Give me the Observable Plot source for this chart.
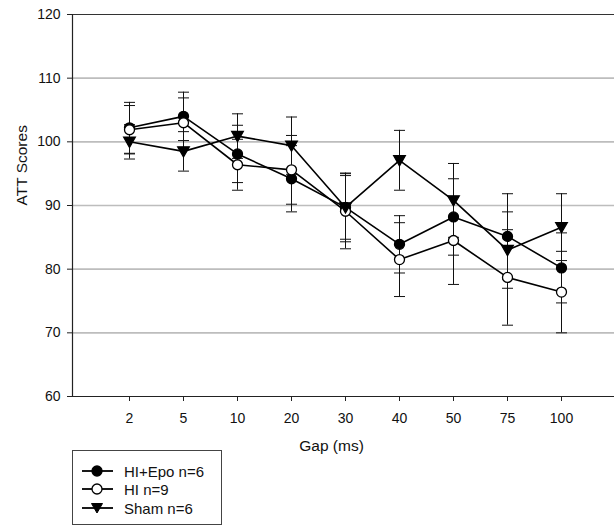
<!DOCTYPE html>
<html>
<head>
<meta charset="utf-8">
<script src="https://cdn.jsdelivr.net/npm/d3@7"></script>
<script src="https://cdn.jsdelivr.net/npm/@observablehq/plot@0.6"></script>
<style>
  html, body { margin: 0; padding: 0; background: #fff; }
  #wrap { position: relative; width: 614px; height: 526px; overflow: hidden; font-family: "Liberation Sans", Arial, sans-serif; }
  #legend { position: absolute; left: 72px; top: 450px; width: 150px; height: 75px; border: 1px solid #444; box-sizing: border-box; background: #fff; }
  .item { position: absolute; left: 0; height: 18px; display: flex; align-items: center; font-size: 15px; color: #111; }
  .item svg { margin-left: 9px; margin-right: 11px; }
</style>
</head>
<body>
<div id="wrap"><div id="chart"></div><div id="legend"></div></div>
<script>
const gaps = ["2", "5", "10", "20", "30", "40", "50", "75", "100"];
const seriesNames = ["HI+Epo n=6", "HI n=9", "Sham n=6"];
const hiEpo    = [102.2, 104.0, 98.1, 94.2, 89.7, 83.9, 88.2, 85.15, 80.2];
const hiEpoErr = [4.0, 3.8, 4.5, 5.2, 5.0, 4.5, 6.0, 6.7, 5.5];
const hi       = [101.9, 103.0, 96.4, 95.6, 89.1, 81.5, 84.5, 78.7, 76.4];
const hiErr    = [3.8, 3.9, 4.0, 5.4, 5.9, 5.8, 6.9, 7.5, 6.4];
const sham     = [100.0, 98.5, 100.9, 99.4, 89.7, 97.1, 90.8, 83.0, 86.6];
const shamErr  = [2.7, 3.1, 3.5, 4.5, 5.4, 4.7, 5.8, 6.0, 5.25];
const yTicks = [60, 70, 80, 90, 100, 110, 120];
const gridTicks = [70, 80, 90, 100, 110];
const xTitle = "Gap (ms)";
const yTitle = "ATT Scores";

const means = [hiEpo, hi, sham];
const errs = [hiEpoErr, hiErr, shamErr];
const data = [];
seriesNames.forEach((s, si) => {
  gaps.forEach((g, i) => {
    data.push({series: s, gap: g, y: means[si][i], lo: means[si][i] - errs[si][i], hi: means[si][i] + errs[si][i]});
  });
});

const triDown = {
  draw(ctx) {
    ctx.moveTo(-5.8, -4.6);
    ctx.lineTo(5.8, -4.6);
    ctx.lineTo(0, 5.6);
    ctx.closePath();
  }
};
const capLine = {
  draw(ctx) {
    ctx.moveTo(-5.5, 0);
    ctx.lineTo(5.5, 0);
  }
};

const symbolOf = {"HI+Epo n=6": "circle", "HI n=9": "circle", "Sham n=6": triDown};
const fillOf = {"HI+Epo n=6": "#000", "HI n=9": "#fff", "Sham n=6": "#000"};

const chart = Plot.plot({
  width: 614,
  height: 526,
  marginLeft: 72,
  marginRight: 0,
  marginTop: 14,
  marginBottom: 130,
  style: {fontFamily: "'Liberation Sans', Arial, sans-serif", fontSize: "14px", color: "#111", background: "#fff"},
  x: {type: "point", domain: gaps, range: [72, 618], padding: 1},
  y: {domain: [60, 120]},
  symbol: {type: "identity"},
  marks: [
    Plot.ruleY(gridTicks, {stroke: "#bdbdbd", strokeWidth: 1.6}),
    Plot.ruleY([120], {stroke: "#333", strokeWidth: 1}),
    Plot.ruleY([60], {stroke: "#222", strokeWidth: 1.2}),
    Plot.frame({anchor: "left", stroke: "#222", strokeWidth: 1.2}),
    Plot.axisY({ticks: yTicks, tickSize: 5, tickPadding: 7, label: null, fontSize: 14, stroke: "#222"}),
    Plot.axisX({tickSize: 5, tickPadding: 12, label: null, fontSize: 14, stroke: "#222"}),
    Plot.text([yTitle], {frameAnchor: "left", dx: -50, rotate: -90, fontSize: 15.5, fill: "#111"}),
    Plot.text([xTitle], {frameAnchor: "bottom", dx: -12, dy: 54, fontSize: 15.5, fill: "#111"}),
    Plot.line(data, {x: "gap", y: "y", z: "series", stroke: "#000", strokeWidth: 1.6}),
    Plot.ruleX(data, {x: "gap", y1: "lo", y2: "hi", stroke: "#111", strokeWidth: 1}),
    Plot.dot(data, {x: "gap", y: "lo", symbol: () => capLine, fill: "none", stroke: "#111", strokeWidth: 1, r: 5}),
    Plot.dot(data, {x: "gap", y: "hi", symbol: () => capLine, fill: "none", stroke: "#111", strokeWidth: 1, r: 5}),
    Plot.dot(data, {x: "gap", y: "y", symbol: d => symbolOf[d.series], fill: d => fillOf[d.series], stroke: "#000", strokeWidth: 1.3, r: 5})
  ]
});
document.getElementById("chart").appendChild(chart);

// legend
const legend = document.getElementById("legend");
const tops = [11, 29, 48];
seriesNames.forEach((s, i) => {
  const div = document.createElement("div");
  div.className = "item";
  div.style.top = tops[i] + "px";
  const sym = symbolOf[s];
  let marker;
  if (sym === "circle") {
    marker = `<circle cx="15" cy="9" r="5" fill="${fillOf[s]}" stroke="#000" stroke-width="1.3"/>`;
  } else {
    marker = `<path d="M9.5,4.5 L20.5,4.5 L15,14 Z" fill="#000" stroke="#000" stroke-width="1"/>`;
  }
  div.innerHTML = `<svg width="31" height="18"><line x1="0" y1="9" x2="31" y2="9" stroke="#000" stroke-width="1.8"/>${marker}</svg><span>${s}</span>`;
  legend.appendChild(div);
});
</script>
</body>
</html>
